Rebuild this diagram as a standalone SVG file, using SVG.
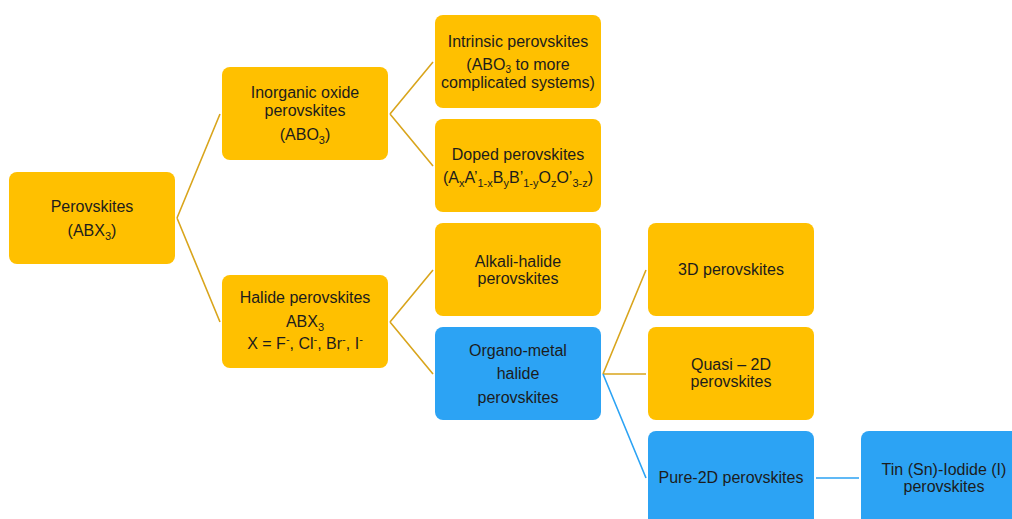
<svg xmlns="http://www.w3.org/2000/svg" width="1012" height="519" viewBox="0 0 1012 519">
<style>
.y{fill:#FFC000}
.b{fill:#2CA3F4}
text{font-family:"Liberation Sans",Arial,sans-serif;font-size:16px;fill:#1c1c1c;text-anchor:middle}
.ly{stroke:#D9A51C;stroke-width:1.6;fill:none}
.lb{stroke:#2CA3F4;stroke-width:1.6;fill:none}
.s{font-size:11px}
.t{font-size:10px}
</style>
<rect width="1012" height="519" fill="#ffffff"/>
<g id="connectors">
<path class="ly" d="M177,218 L220,114 M177,218 L220,322"/>
<path class="ly" d="M390,114 L433,62 M390,114 L433,166"/>
<path class="ly" d="M390,322 L433,270 M390,322 L433,374"/>
<path class="ly" d="M603,374 L646,270 M603,374 L646,374"/>
<path class="lb" d="M603,374 L646,478 M816,478 L859,478"/>
</g>
<g id="perovskites">
<rect class="y" x="9" y="172" width="166" height="92" rx="8"/>
<text x="92" y="212">Perovskites</text>
<text x="92" y="236">(ABX<tspan class="s" dy="4">3</tspan><tspan dy="-4">)</tspan></text>
</g>
<g id="inorganic">
<rect class="y" x="222" y="67" width="166" height="93" rx="8"/>
<text x="305" y="98">Inorganic oxide</text>
<text x="305" y="116">perovskites</text>
<text x="305" y="140">(ABO<tspan class="s" dy="4">3</tspan><tspan dy="-4">)</tspan></text>
</g>
<g id="intrinsic">
<rect class="y" x="435" y="15" width="166" height="93" rx="8"/>
<text x="518" y="47">Intrinsic  perovskites</text>
<text x="518" y="70">(ABO<tspan class="t" dy="3">3</tspan><tspan dy="-3"> to more</tspan></text>
<text x="518" y="88">complicated systems)</text>
</g>
<g id="doped">
<rect class="y" x="435" y="119" width="166" height="93" rx="8"/>
<text x="518" y="160">Doped perovskites</text>
<text x="518" y="183">(A<tspan class="s" dy="4">x</tspan><tspan dy="-4">A’</tspan><tspan class="s" dy="4">1-x</tspan><tspan dy="-4">B</tspan><tspan class="s" dy="4">y</tspan><tspan dy="-4">B’</tspan><tspan class="s" dy="4">1-y</tspan><tspan dy="-4">O</tspan><tspan class="s" dy="4">z</tspan><tspan dy="-4">O’</tspan><tspan class="s" dy="4">3-z</tspan><tspan dy="-4">)</tspan></text>
</g>
<g id="halide">
<rect class="y" x="222" y="275" width="166" height="93" rx="8"/>
<text x="305" y="303">Halide perovskites</text>
<text x="305" y="327">ABX<tspan class="s" dy="4">3</tspan></text>
<text x="305" y="349">X = F<tspan class="s" dy="-6">-</tspan><tspan dy="6">, Cl</tspan><tspan class="s" dy="-6">-</tspan><tspan dy="6">, Br</tspan><tspan class="s" dy="-6">-</tspan><tspan dy="6">, I</tspan><tspan class="s" dy="-6">-</tspan></text>
</g>
<g id="alkali">
<rect class="y" x="435" y="223" width="166" height="93" rx="8"/>
<text x="518" y="267">Alkali-halide</text>
<text x="518" y="284">perovskites</text>
</g>
<g id="organo">
<rect class="b" x="435" y="327" width="166" height="93" rx="8"/>
<text x="518" y="356">Organo-metal</text>
<text x="518" y="379">halide</text>
<text x="518" y="403">perovskites</text>
</g>
<g id="threeD">
<rect class="y" x="648" y="223" width="166" height="93" rx="8"/>
<text x="731" y="275">3D perovskites</text>
</g>
<g id="quasi">
<rect class="y" x="648" y="327" width="166" height="93" rx="8"/>
<text x="731" y="370">Quasi – 2D</text>
<text x="731" y="387">perovskites</text>
</g>
<g id="pure2d">
<rect class="b" x="648" y="431" width="166" height="100" rx="8"/>
<text x="731" y="483">Pure-2D perovskites</text>
</g>
<g id="tin">
<rect class="b" x="861" y="431" width="166" height="100" rx="8"/>
<text x="944" y="475">Tin (Sn)-Iodide (I)</text>
<text x="944" y="492">perovskites</text>
</g>
</svg>
